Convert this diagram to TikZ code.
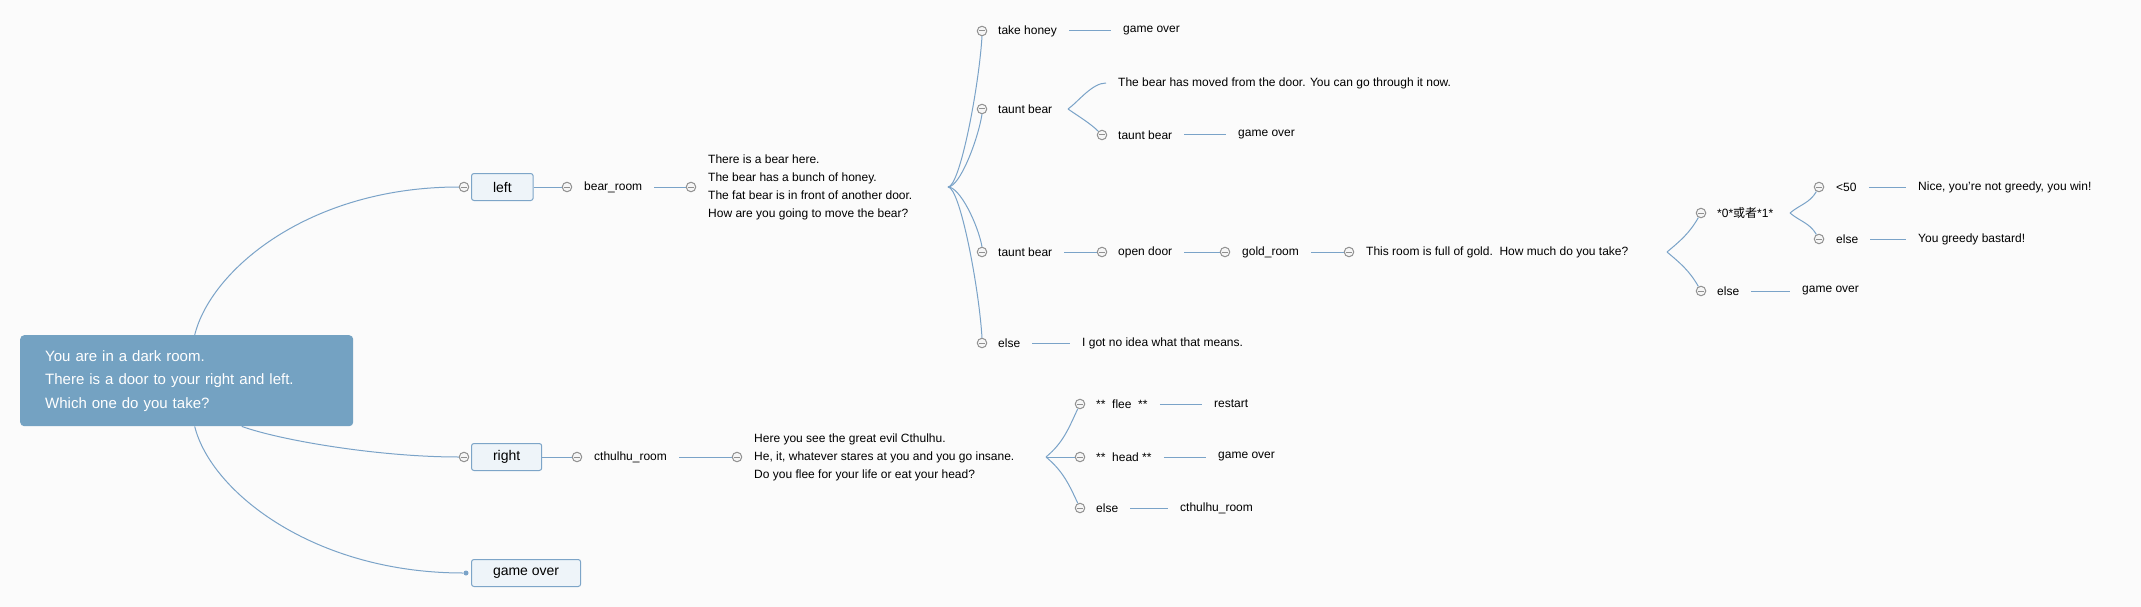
\documentclass[tikz,border=0pt]{standalone}
\usepackage{fontspec}
\setmainfont{Liberation Sans}
\newfontfamily\cjkfont{Noto Sans CJK SC}
\usetikzlibrary{calc}
\definecolor{linkc}{RGB}{122,163,200}
\definecolor{rootfill}{RGB}{116,162,194}
\definecolor{boxfill}{RGB}{238,244,249}
\definecolor{boxdraw}{RGB}{125,165,200}
\definecolor{bgc}{RGB}{251,251,251}
\definecolor{markc}{RGB}{145,145,145}
\definecolor{markfill}{RGB}{246,246,246}
\begin{document}
\begin{tikzpicture}[x=1pt,y=1pt,
  link/.style={draw=linkc, line width=1pt},
  togglec/.style={circle, draw=markc, fill=markfill, line width=1pt, minimum size=9.5pt, inner sep=0pt,
    path picture={\draw[markc, line width=1pt] ([xshift=1.8pt]path picture bounding box.west) -- ([xshift=-1.8pt]path picture bounding box.east);}},
  lbl/.style={anchor=west, inner xsep=12pt, inner ysep=2pt, font=\fontsize{12}{18}\selectfont, text=black},
  multi/.style={lbl, align=left},
  topicbox/.style={anchor=west, draw=boxdraw, fill=boxfill, rounded corners=2.5pt, line width=1pt, inner xsep=21.5pt, minimum height=27pt, font=\fontsize{14}{16}\selectfont},
  rootbox/.style={anchor=north west, fill=rootfill, rounded corners=4pt, minimum width=333pt, minimum height=91pt, text width=283pt, inner xsep=25pt, align=left, text=white, font=\fontsize{15}{23.5}\selectfont}]
\fill[bgc] (0,0) rectangle (2141,-607);
\useasboundingbox (0,0) rectangle (2141,-607);

% root and first level
\node[rootbox] (root) at (20,-335) {You are in a dark room.\\There is a door to your right and left.\\Which one do you take?};
\node[topicbox] (left) at (471,-187) {left};
\node[togglec] (tL) at (464,-187) {};
\node[topicbox] (right) at (471,-457) {right};
\node[togglec] (tR) at (464,-457) {};
\node[topicbox] (gover) at (471,-573) {game over};
\node[circle, fill=linkc, inner sep=0pt, minimum size=5pt] (dot) at (466,-573) {};

% bear branch
\node[togglec] (tBR) at (567,-187) {};
\node[lbl] (bearroom) at (572,-187) {bear\_room};
\node[togglec] (tBT) at (691,-187) {};
\node[multi] (beartext) at (696,-187) {There is a bear here.\\The bear has a bunch of honey.\\The fat bear is in front of another door.\\How are you going to move the bear?};
\coordinate (bfan) at (948,-187);

\node[togglec] (tTH) at (982,-31) {};
\node[lbl] (takehoney) at (986,-31) {take honey};
\node[lbl] (go1) at (1111,-31) {game over};

\node[togglec] (tTB1) at (982,-109) {};
\node[lbl] (taunt1) at (986,-109) {taunt bear};
\coordinate (tb1fan) at (1068,-109);
\node[lbl] (moved) at (1106,-83) {The bear has moved from the door. You can go through it now.};
\node[togglec] (tTB1b) at (1102,-135) {};
\node[lbl] (taunt1b) at (1106,-135) {taunt bear};
\node[lbl] (go2) at (1226,-135) {game over};

\node[togglec] (tTB2) at (982,-252) {};
\node[lbl] (taunt2) at (986,-252) {taunt bear};
\node[togglec] (tOD) at (1102,-252) {};
\node[lbl] (opendoor) at (1106,-252) {open door};
\node[togglec] (tGR) at (1225,-252) {};
\node[lbl] (goldroom) at (1230,-252) {gold\_room};
\node[togglec] (tGT) at (1349,-252) {};
\node[lbl] (goldtext) at (1354,-252) {This room is full of gold.\ \ How much do you take?};
\coordinate (gfan) at (1667,-252);
\node[togglec] (t01) at (1701,-213) {};
\node[lbl] (zeroone) at (1705,-213) {*0*{\cjkfont 或者}*1*};
\coordinate (zfan) at (1790,-213);
\node[togglec] (t50) at (1819,-187) {};
\node[lbl] (lt50) at (1824,-187) {<50};
\node[lbl] (win) at (1906,-187) {Nice, you're not greedy, you win!};
\node[togglec] (tEl1) at (1819,-239) {};
\node[lbl] (else1) at (1824,-239) {else};
\node[lbl] (bastard) at (1906,-239) {You greedy bastard!};
\node[togglec] (tEl2) at (1701,-291) {};
\node[lbl] (else2) at (1705,-291) {else};
\node[lbl] (go3) at (1790,-291) {game over};

\node[togglec] (tEl3) at (982,-343) {};
\node[lbl] (else3) at (986,-343) {else};
\node[lbl] (noidea) at (1070,-343) {I got no idea what that means.};

% cthulhu branch
\node[togglec] (tCR) at (577,-457) {};
\node[lbl] (cthroom) at (582,-457) {cthulhu\_room};
\node[togglec] (tCT) at (737,-457) {};
\node[multi] (cthtext) at (742,-457) {Here you see the great evil Cthulhu.\\He, it, whatever stares at you and you go insane.\\Do you flee for your life or eat your head?};
\coordinate (cfan) at (1046,-457);
\node[togglec] (tFl) at (1080,-404) {};
\node[lbl] (flee) at (1084,-404) {**~~flee~~**};
\node[lbl] (restart) at (1202,-404) {restart};
\node[togglec] (tHd) at (1080,-457) {};
\node[lbl] (head) at (1084,-457) {**~~head~**};
\node[lbl] (go4) at (1206,-457) {game over};
\node[togglec] (tEl4) at (1080,-508) {};
\node[lbl] (else4) at (1084,-508) {else};
\node[lbl] (cthroom2) at (1168,-508) {cthulhu\_room};

% connectors
\draw[link] ([xshift=8pt]root.north) .. controls +(16,65) and +(-150,0) .. (tL.west);
\draw[link] ([xshift=8pt]root.south) .. controls +(16,-65) and +(-150,0) .. (dot.west);
\draw[link] ([xshift=55pt]root.south) .. controls +(39,-14) and +(-80,0) .. (tR.west);

\draw[link] (left.east) -- (tBR);
\draw[link] (bearroom.east) -- (tBT);
\draw[link] (right.east) -- (tCR);
\draw[link] (cthroom.east) -- (tCT);

\draw[link] (bfan) .. controls +(12,0) and +(-3,-50) .. (tTH.south);
\draw[link] (bfan) .. controls +(12,0) and +(-4,-25) .. (tTB1.south);
\draw[link] (bfan) .. controls +(12,0) and +(-4,22) .. (tTB2.north);
\draw[link] (bfan) .. controls +(12,0) and +(-3,50) .. (tEl3.north);

\draw[link] (takehoney.east) -- (go1.west);
\draw[link] (tb1fan) .. controls +(10,7) and +(-14,0) .. (moved.west);
\draw[link] (tb1fan) .. controls +(10,-7) and +(-8,8) .. (tTB1b.north west);
\draw[link] (taunt1b.east) -- (go2.west);
\draw[link] (taunt2.east) -- (tOD);
\draw[link] (opendoor.east) -- (tGR);
\draw[link] (goldroom.east) -- (tGT);
\draw[link] (gfan) to[out=40,in=-120] (t01);
\draw[link] (gfan) to[out=-40,in=120] (tEl2);
\draw[link] (zfan) to[out=40,in=-120] (t50);
\draw[link] (zfan) to[out=-40,in=120] (tEl1);
\draw[link] (lt50.east) -- (win.west);
\draw[link] (else1.east) -- (bastard.west);
\draw[link] (else2.east) -- (go3.west);
\draw[link] (else3.east) -- (noidea.west);

\draw[link] (cfan) to[out=40,in=-115] (tFl);
\draw[link] (cfan) -- (tHd);
\draw[link] (cfan) to[out=-40,in=115] (tEl4);
\draw[link] (flee.east) -- (restart.west);
\draw[link] (head.east) -- (go4.west);
\draw[link] (else4.east) -- (cthroom2.west);
\end{tikzpicture}
\end{document}
